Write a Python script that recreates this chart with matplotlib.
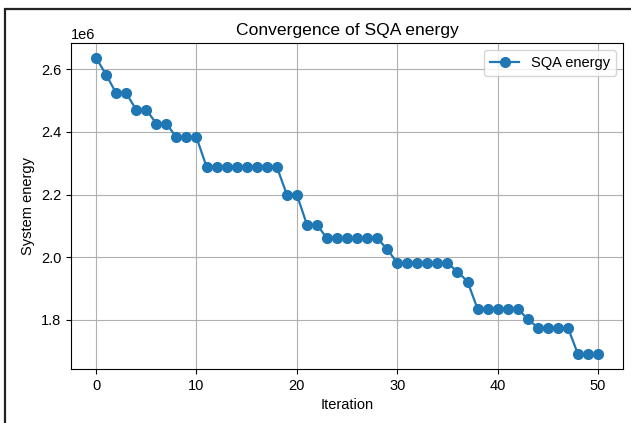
import numpy as np
import matplotlib
matplotlib.use("Agg")
import matplotlib.pyplot as plt
from matplotlib.patches import Rectangle

plt.rcParams['font.family'] = ['Liberation Sans', 'DejaVu Sans']

# energia por iteracion (en unidades de 1e6)
iterations = list(range(51))
energy_e6 = [2.637, 2.583, 2.524, 2.524, 2.471, 2.471, 2.427, 2.427, 2.383, 2.383,
             2.383, 2.289, 2.289, 2.289, 2.289, 2.289, 2.289, 2.289, 2.289, 2.200,
             2.200, 2.104, 2.104, 2.060, 2.060, 2.060, 2.060, 2.060, 2.060, 2.026,
             1.981, 1.981, 1.981, 1.981, 1.981, 1.981, 1.954, 1.922, 1.835, 1.835,
             1.835, 1.835, 1.835, 1.802, 1.775, 1.775, 1.775, 1.775, 1.690, 1.690,
             1.690]
energy = np.array(energy_e6) * 1e6

fig = plt.figure(figsize=(6.31, 4.23), dpi=100)
ax = fig.add_axes([0.1125, 0.1277, 0.875, 0.7706])

ax.plot(iterations, energy, marker='o', markersize=7, linewidth=1.6,
        color='#1f77b4', label='SQA energy')
ax.set_title("Convergence of SQA energy", fontsize=12.6)
ax.set_xlabel("Iteration", fontsize=10.5)
ax.set_ylabel("System energy", fontsize=10.5)
ax.tick_params(labelsize=10.5)
ax.yaxis.get_offset_text().set_fontsize(10.5)
ax.grid(True)
ax.legend(loc='upper right', fontsize=10.5)

# marco de la captura (solo arriba e izquierda)
fig.patches.append(Rectangle((5 / 631, -0.1), 1.2, 1.1 - 9 / 423,
                             transform=fig.transFigure, fill=False,
                             edgecolor='#222222', linewidth=1.6))

fig.savefig("out.png", dpi=100)
